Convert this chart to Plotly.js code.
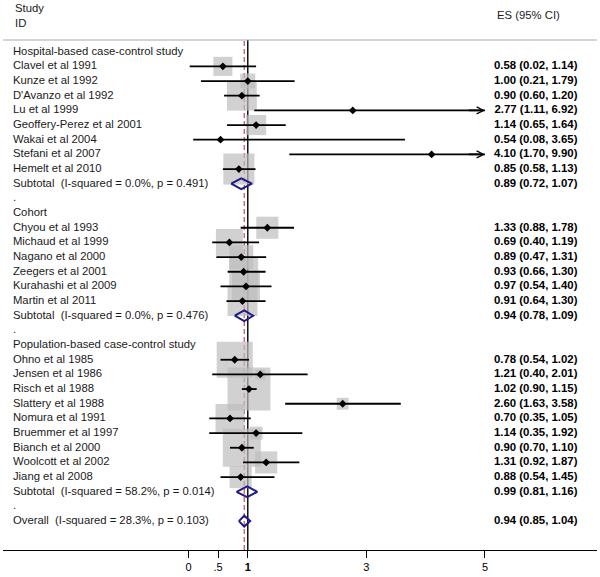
<!DOCTYPE html>
<html>
<head>
<meta charset="utf-8">
<script src="https://cdn.plot.ly/plotly-3.0.1.min.js"></script>
<style>
  body { margin: 0; background: #fff; }
  #myPlot { width: 600px; height: 577px; }
</style>
</head>
<body>
<div id="myPlot"></div>
<script>
        // Study data
        const groupNames = ["Hospital-based case-control study", "Cohort", "Population-based case-control study"];
        const studyNames = [
            "Clavel et al 1991", "Kunze et al 1992", "D'Avanzo et al 1992", "Lu et al 1999",
            "Geoffery-Perez et al 2001", "Wakai et al 2004", "Stefani et al 2007", "Hemelt et al 2010",
            "Chyou et al 1993", "Michaud et al 1999", "Nagano et al 2000", "Zeegers et al 2001",
            "Kurahashi et al 2009", "Martin et al 2011",
            "Ohno et al 1985", "Jensen et al 1986", "Risch et al 1988", "Slattery et al 1988",
            "Nomura et al 1991", "Bruemmer et al 1997", "Bianch et al 2000", "Woolcott et al 2002",
            "Jiang et al 2008"
        ];
        const studyGroup = [0, 0, 0, 0, 0, 0, 0, 0, 1, 1, 1, 1, 1, 1, 2, 2, 2, 2, 2, 2, 2, 2, 2];
        const studyES = [0.58, 1.00, 0.90, 2.77, 1.14, 0.54, 4.10, 0.85, 1.33, 0.69, 0.89, 0.93, 0.97, 0.91, 0.78, 1.21, 1.02, 2.60, 0.70, 1.14, 0.90, 1.31, 0.88];
        const studyLo = [0.02, 0.21, 0.60, 1.11, 0.65, 0.08, 1.70, 0.58, 0.88, 0.40, 0.47, 0.66, 0.54, 0.64, 0.54, 0.40, 0.90, 1.63, 0.35, 0.35, 0.70, 0.92, 0.54];
        const studyHi = [1.14, 1.79, 1.20, 6.92, 1.64, 3.65, 9.90, 1.13, 1.78, 1.19, 1.31, 1.30, 1.40, 1.30, 1.02, 2.01, 1.15, 3.58, 1.05, 1.92, 1.10, 1.87, 1.45];
        // weights (%)
        const studyWeight = [2.6, 1.6, 6.4, 0.03, 2.9, 0.03, 0.03, 6.9, 3.5, 5.2, 4.1, 6.0, 5.6, 6.4, 9.3, 0.7, 13.2, 1.0, 6.0, 1.2, 10.3, 3.5, 3.5];

        const subES = [0.89, 0.94, 0.99];
        const subLo = [0.72, 0.78, 0.81];
        const subHi = [1.07, 1.09, 1.16];
        const subI2 = ["0.0", "0.0", "58.2"];
        const subP = ["0.491", "0.476", "0.014"];

        const overallES = 0.94, overallLo = 0.85, overallHi = 1.04;
        const overallI2 = "28.3", overallP = "0.103";

        const tickVals = [0, 0.5, 1, 3, 5];
        const tickText = ["0", ".5", "<b>1</b>", "3", "5"];
        const xClip = 5;

        function fmt(e, l, h) {
            return e.toFixed(2) + " (" + l.toFixed(2) + ", " + h.toFixed(2) + ")";
        }

        // Lay the rows out
        var labelRow = [], labelText = [];
        var esRow = [], esText = [];
        var sRow = [];
        var diamonds = [];
        var r = 0;
        for (var g = 0; g < groupNames.length; g++) {
            labelRow.push(r); labelText.push(groupNames[g]); r++;
            for (var i = 0; i < studyNames.length; i++) {
                if (studyGroup[i] != g) continue;
                sRow[i] = r;
                labelRow.push(r); labelText.push(studyNames[i]);
                esRow.push(r); esText.push(fmt(studyES[i], studyLo[i], studyHi[i]));
                r++;
            }
            labelRow.push(r); labelText.push("Subtotal\u00a0 (I-squared = " + subI2[g] + "%, p = " + subP[g] + ")");
            esRow.push(r); esText.push(fmt(subES[g], subLo[g], subHi[g]));
            diamonds.push([subES[g], subLo[g], subHi[g], r]);
            r++;
            labelRow.push(r); labelText.push("."); r++;
        }
        labelRow.push(r); labelText.push("Overall\u00a0 (I-squared = " + overallI2 + "%, p = " + overallP + ")");
        esRow.push(r); esText.push(fmt(overallES, overallLo, overallHi));
        diamonds.push([overallES, overallLo, overallHi, r]);

        var font = "Liberation Sans, Arial, sans-serif";
        var data = [];

        // grey weight boxes
        data.push({
            x: studyES, y: sRow, type: "scatter", mode: "markers",
            marker: { symbol: "square", color: "#bdbdbd", size: studyWeight.map(w => 11.83 * Math.sqrt(w)), line: { width: 0 } },
            hoverinfo: "skip"
        });

        // CI lines
        var cx = [], cy = [];
        var annotations = [];
        for (var i = 0; i < studyNames.length; i++) {
            cx.push(studyLo[i], Math.min(studyHi[i], xClip), null);
            cy.push(sRow[i], sRow[i], null);
            if (studyHi[i] > xClip) {
                annotations.push({
                    x: xClip, y: sRow[i], xref: "x", yref: "y",
                    ax: xClip - 0.3, ay: sRow[i], axref: "x", ayref: "y",
                    showarrow: true, arrowhead: 5, arrowsize: 0.75, arrowwidth: 1.8, arrowcolor: "#000", text: ""
                });
            }
        }
        data.push({ x: cx, y: cy, type: "scatter", mode: "lines", line: { color: "#000", width: 1.8 }, hoverinfo: "skip" });

        // point estimates
        data.push({
            x: studyES, y: sRow, type: "scatter", mode: "markers",
            marker: { symbol: "diamond", color: "#000", size: 6 }, hoverinfo: "skip"
        });

        // pooled diamonds
        diamonds.forEach(function (d) {
            var h = 0.37;
            data.push({
                x: [d[1], d[0], d[2], d[0], d[1]],
                y: [d[3], d[3] - h, d[3], d[3] + h, d[3]],
                type: "scatter", mode: "lines", line: { color: "#1c1c84", width: 2 }, hoverinfo: "skip"
            });
        });

        // left labels
        data.push({
            x: labelRow.map(() => -2.96), y: labelRow, text: labelText,
            type: "scatter", mode: "text", textposition: "middle right", cliponaxis: false,
            textfont: { family: font, size: 11.3, color: "#1a1a1a" }, hoverinfo: "skip"
        });
        // ES column
        data.push({
            x: esRow.map(() => 6.56), y: esRow, text: esText,
            type: "scatter", mode: "text", textposition: "middle left", cliponaxis: false,
            textfont: { family: font, size: 11.4, color: "#000", weight: "bold" }, hoverinfo: "skip"
        });

        // column headers above the top rule
        var hfont = { family: font, size: 11.3, color: "#1a1a1a" };
        annotations.push(
            { text: "Study", xref: "x", yref: "paper", x: -2.96, y: 1.062, xanchor: "left", yanchor: "middle", showarrow: false, font: hfont },
            { text: "ID", xref: "x", yref: "paper", x: -2.96, y: 1.034, xanchor: "left", yanchor: "middle", showarrow: false, font: hfont },
            { text: "ES (95% CI)", xref: "x", yref: "paper", x: 5.17, y: 1.049, xanchor: "left", yanchor: "middle", showarrow: false, font: hfont }
        );

        const layout = {
            width: 600, height: 577,
            margin: { l: 3, r: 3, t: 40, b: 27 },
            paper_bgcolor: "#fff", plot_bgcolor: "#fff",
            showlegend: false,
            xaxis: {
                range: [-3.128, 6.889], showgrid: false, zeroline: false,
                showline: true, linecolor: "#000", linewidth: 1,
                ticks: "outside", ticklen: 7, tickcolor: "#000", tickwidth: 1,
                tickvals: tickVals, ticktext: tickText,
                tickfont: { family: font, size: 11, color: "#000" }
            },
            yaxis: { range: [33.97, -0.798], visible: false },
            shapes: [
                { type: "line", xref: "paper", yref: "paper", x0: 0, x1: 1, y0: 1, y1: 1, line: { color: "#aaa", width: 1 } },
                { type: "line", xref: "x", yref: "paper", x0: 1, x1: 1, y0: 0, y1: 1, layer: "below", line: { color: "#000", width: 1.4 } },
                { type: "line", xref: "x", yref: "paper", x0: overallES, x1: overallES, y0: 0, y1: 1, layer: "below", line: { color: "#c9465a", width: 1.2, dash: "5px,3px" } }
            ],
            annotations: annotations
        };

        Plotly.newPlot("myPlot", data, layout, { staticPlot: true });
</script>
</body>
</html>
